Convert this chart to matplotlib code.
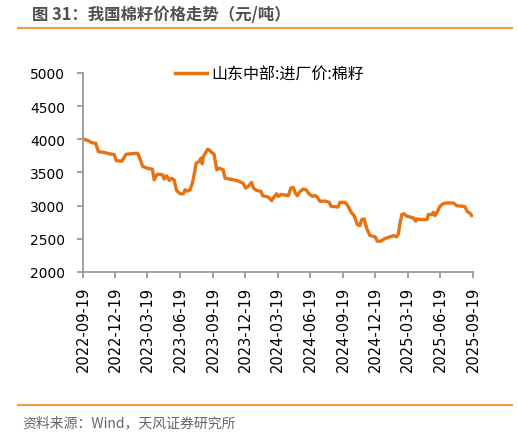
import pandas as pd
import matplotlib
matplotlib.use("Agg")
import matplotlib.pyplot as plt
from matplotlib.lines import Line2D

plt.rcParams['font.family'] = ['Noto Sans CJK SC', 'DejaVu Sans']

# 山东中部:进厂价:棉籽 (元/吨)
dates = [
    "2022-09-19", "2022-09-22", "2022-10-04", "2022-10-13", "2022-10-25", "2022-11-01",
    "2022-11-15", "2022-12-04", "2022-12-16", "2022-12-21", "2023-01-06", "2023-01-18",
    "2023-02-17", "2023-02-21", "2023-03-06", "2023-03-21", "2023-04-02", "2023-04-07",
    "2023-04-16", "2023-05-01", "2023-05-05", "2023-05-12", "2023-05-20", "2023-05-26",
    "2023-06-02", "2023-06-09", "2023-06-19", "2023-06-28", "2023-07-03", "2023-07-09",
    "2023-07-17", "2023-07-24", "2023-07-29", "2023-08-03", "2023-08-12", "2023-08-16",
    "2023-08-20", "2023-08-23", "2023-08-28", "2023-09-04", "2023-09-09", "2023-09-16",
    "2023-09-22", "2023-09-30", "2023-10-07", "2023-10-18", "2023-10-23", "2023-11-06",
    "2023-11-25", "2023-12-13", "2023-12-20", "2023-12-27", "2024-01-06", "2024-01-11",
    "2024-01-20", "2024-02-01", "2024-02-06", "2024-02-22", "2024-03-02", "2024-03-09",
    "2024-03-16", "2024-03-21", "2024-03-30", "2024-04-18", "2024-04-25", "2024-05-02",
    "2024-05-07", "2024-05-13", "2024-05-21", "2024-05-30", "2024-06-07", "2024-06-16",
    "2024-06-25", "2024-07-02", "2024-07-08", "2024-07-16", "2024-07-30", "2024-08-11",
    "2024-08-16", "2024-09-05", "2024-09-10", "2024-09-24", "2024-10-01", "2024-10-13",
    "2024-10-20", "2024-10-29", "2024-11-05", "2024-11-10", "2024-11-17", "2024-11-24",
    "2024-12-03", "2024-12-18", "2024-12-24", "2025-01-03", "2025-01-15", "2025-01-29",
    "2025-02-09", "2025-02-16", "2025-02-21", "2025-02-26", "2025-03-03", "2025-03-09",
    "2025-03-17", "2025-03-26", "2025-04-04", "2025-04-11", "2025-04-13", "2025-04-28",
    "2025-05-13", "2025-05-16", "2025-05-26", "2025-05-30", "2025-06-04", "2025-06-09",
    "2025-06-18", "2025-06-27", "2025-07-07", "2025-07-26", "2025-08-04", "2025-08-23",
    "2025-08-27", "2025-09-04", "2025-09-10", "2025-09-15", "2025-09-19",
]
prices = [
    4000, 4000, 3980, 3950, 3940, 3815,
    3805, 3780, 3770, 3680, 3670, 3775,
    3790, 3780, 3590, 3560, 3550, 3390,
    3475, 3465, 3400, 3450, 3380, 3410,
    3390, 3230, 3180, 3180, 3240, 3220,
    3240, 3350, 3490, 3640, 3665, 3715,
    3630, 3740, 3780, 3850, 3840, 3800,
    3780, 3540, 3565, 3540, 3415, 3400,
    3380, 3340, 3265, 3290, 3350, 3265,
    3230, 3215, 3150, 3130, 3075, 3130,
    3180, 3140, 3170, 3150, 3265, 3275,
    3200, 3150, 3215, 3250, 3240, 3175,
    3140, 3155, 3130, 3065, 3070, 3050,
    2990, 2980, 3050, 3050, 3010, 2890,
    2850, 2715, 2700, 2790, 2800, 2665,
    2550, 2530, 2465, 2465, 2505, 2530,
    2550, 2530, 2565, 2740, 2865, 2880,
    2840, 2830, 2815, 2765, 2800, 2790,
    2790, 2865, 2865, 2900, 2850, 2890,
    2990, 3030, 3040, 3040, 3000, 2990,
    2985, 2905, 2890, 2850, 2850,
]
tick_dates = [
    "2022-09-19", "2022-12-19", "2023-03-19", "2023-06-19", "2023-09-19",
    "2023-12-19", "2024-03-19", "2024-06-19", "2024-09-19", "2024-12-19",
    "2025-03-19", "2025-06-19", "2025-09-19",
]
y_ticks = [2000, 2500, 3000, 3500, 4000, 4500, 5000]
series_name = "山东中部:进厂价:棉籽"
title = "图 31：我国棉籽价格走势（元/吨）"
source = "资料来源：Wind，天风证券研究所"

line_color = "#E8720F"
rule_color = "#F39A3C"
axis_color = "#A0A0A0"

x = pd.to_datetime(dates)
xt = pd.to_datetime(tick_dates)

fig = plt.figure(figsize=(5.17, 4.35), dpi=100)
ax = fig.add_axes([83 / 517, 1 - 273 / 435, 390 / 517, 199 / 435])

ax.plot(x, prices, color=line_color, lw=2.4, solid_joinstyle="round")
ax.set_xlim(xt[0], xt[-1])
ax.set_ylim(2000, 5000)
ax.set_xticks(xt)
ax.set_xticklabels(tick_dates, rotation=90, family="DejaVu Sans", fontsize=10.5)
ax.set_yticks(y_ticks)
ax.set_yticklabels([str(v) for v in y_ticks], family="DejaVu Sans", fontsize=10)

for s in ["top", "right"]:
    ax.spines[s].set_visible(False)
for s in ["left", "bottom"]:
    ax.spines[s].set_color(axis_color)
    ax.spines[s].set_linewidth(1.4)
ax.tick_params(axis="both", direction="out", length=4, width=1.4, color=axis_color,
               labelcolor="black")
ax.tick_params(axis="y", pad=9)
ax.tick_params(axis="x", pad=6)

ax.legend([Line2D([], [], color=line_color, lw=2.5)], [series_name],
          loc="center left", bbox_to_anchor=(175 / 517, 1 - 75 / 435),
          bbox_transform=fig.transFigure, frameon=False, fontsize=11.5,
          handlelength=2.0, handletextpad=0.3, borderpad=0, borderaxespad=0)

fig.text(32 / 517, 1 - 15 / 435, title, fontsize=11.8, fontweight="bold",
         color="#505050", va="center", ha="left")
fig.add_artist(Line2D([18 / 517, 512 / 517], [1 - 29 / 435, 1 - 29 / 435],
                      color=rule_color, lw=1.5, transform=fig.transFigure))
fig.add_artist(Line2D([18 / 517, 512 / 517], [1 - 405.5 / 435, 1 - 405.5 / 435],
                      color=rule_color, lw=1.5, transform=fig.transFigure))
fig.text(22 / 517, 1 - 423 / 435, source, fontsize=10, color="#666666",
         va="center", ha="left")

fig.savefig("out.png", dpi=100)
